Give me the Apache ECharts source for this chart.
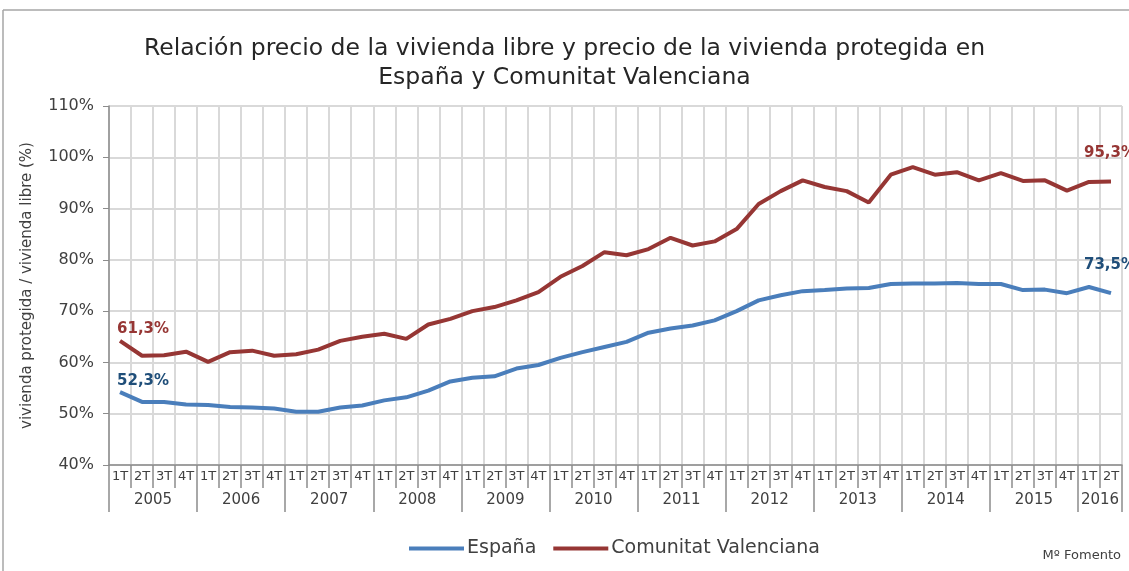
<!DOCTYPE html>
<html>
<head>
<meta charset="utf-8">
<script src="https://cdn.jsdelivr.net/npm/echarts@6/dist/echarts.min.js"></script>
<style>
  html, body { margin: 0; padding: 0; background: #fff; }
  #container { width: 1129px; height: 571px; }
</style>
</head>
<body>
<div id="container"></div>
<script>
// trimestres 2005 1T .. 2016 2T
var years = ['2005','2006','2007','2008','2009','2010','2011','2012','2013','2014','2015','2016']
var quarters = []
var quarterYear = []
for (var y = 0; y < years.length; y++) {
	for (var q = 1; q <= 4; q++) {
		if (years[y] === '2016' && q > 2) break
		quarters.push(q + 'T')
		quarterYear.push(years[y])
	}
}

var espana = [54.2, 52.3, 52.3, 51.8, 51.7, 51.3, 51.2, 51.0, 50.4, 50.4,
	51.2, 51.6, 52.6, 53.2, 54.5, 56.3, 57.0, 57.3, 58.8, 59.5,
	60.9, 62.0, 63.0, 64.0, 65.8, 66.6, 67.2, 68.2, 70.0, 72.1,
	73.1, 73.9, 74.1, 74.4, 74.5, 75.3, 75.4, 75.4, 75.5, 75.3,
	75.3, 74.1, 74.2, 73.5, 74.7, 73.5]
var valenciana = [64.2, 61.3, 61.4, 62.1, 60.1, 62.0, 62.3, 61.3, 61.6, 62.5,
	64.2, 65.0, 65.6, 64.6, 67.4, 68.5, 70.0, 70.8, 72.1, 73.7,
	76.7, 78.8, 81.5, 80.9, 82.1, 84.3, 82.8, 83.6, 86.0, 90.9,
	93.4, 95.5, 94.2, 93.4, 91.2, 96.6, 98.1, 96.6, 97.1, 95.5,
	96.9, 95.4, 95.5, 93.5, 95.2, 95.3]

var startLabels = ['52,3%', '61,3%']
var endLabels = ['73,5%', '95,3%']

// indice donde va la etiqueta del año (desplazada media categoria a la derecha)
var yearLabelIdx = {}
years.forEach(function (yr) {
	var first = quarterYear.indexOf(yr)
	var count = quarterYear.lastIndexOf(yr) - first + 1
	yearLabelIdx[first + count / 2 - 1] = yr
})

var font = 'DejaVu Sans'
var axisGrey = '#8c8c8c'
var gridGrey = '#d9d9d9'

function buildData(values, startText, endText, color) {
	var last = values.length - 1
	return values.map(function (v, i) {
		if (i === 0) {
			return { value: v, label: { show: true, position: 'top', align: 'left', distance: 4, offset: [-3, 0],
				formatter: startText, color: color, fontFamily: font, fontWeight: 'bold', fontSize: 15 } }
		}
		if (i === last) {
			return { value: v, label: { show: true, position: 'top', align: 'left', distance: 5, offset: [-27, -16],
				formatter: endText, color: color, fontFamily: font, fontWeight: 'bold', fontSize: 15 } }
		}
		return v
	})
}

var dom = document.getElementById('container')
var myChart = echarts.init(dom)

var option = {
	animation: false,
	textStyle: { fontFamily: font },
	title: {
		left: 'center',
		top: 29,
		text: 'Relación precio de la vivienda libre y precio de la vivienda protegida en\nEspaña y Comunitat Valenciana',
		textStyle: { fontFamily: font, fontSize: 23.5, fontWeight: 'normal', color: '#262626', lineHeight: 29 }
	},
	legend: {
		left: 404,
		top: 534,
		itemWidth: 55,
		itemHeight: 4,
		itemGap: 17,
		icon: 'rect',
		textStyle: { fontFamily: font, fontSize: 19, color: '#404040', padding: [0, 0, 0, -2] },
		data: ['España', 'Comunitat Valenciana']
	},
	graphic: [
		{ type: 'line', shape: { x1: 3, y1: 10, x2: 1129, y2: 10 }, style: { stroke: '#a6a6a6', lineWidth: 1.5 } },
		{ type: 'line', shape: { x1: 3, y1: 10, x2: 3, y2: 571 }, style: { stroke: '#a6a6a6', lineWidth: 1.5 } },
		{ type: 'text', right: 8, top: 549, style: { text: 'Mº Fomento', font: '13px ' + font, fill: '#404040' } }
	],
	grid: { left: 109, right: 7, top: 106, bottom: 106, outerBoundsMode: 'none', containLabel: false },
	xAxis: [{
		type: 'category',
		data: quarters,
		boundaryGap: true,
		axisLine: { lineStyle: { color: axisGrey, width: 1.5 } },
		axisTick: { show: true, interval: 0, length: 23, lineStyle: { color: axisGrey, width: 1.5 } },
		axisLabel: { interval: 0, margin: 5, fontSize: 13, color: '#404040', fontFamily: font },
		splitLine: { show: true, interval: 0, lineStyle: { color: gridGrey, width: 2 } }
	}, {
		type: 'category',
		data: quarters,
		position: 'bottom',
		boundaryGap: true,
		axisLine: { show: false },
		axisTick: {
			show: true,
			interval: function (i) { return i % 4 === 0 },
			length: 47,
			lineStyle: { color: axisGrey, width: 1.5 }
		},
		axisLabel: {
			interval: function (i) { return yearLabelIdx[i] !== undefined },
			formatter: function (v, i) { return yearLabelIdx[i] },
			padding: [0, 0, 0, 22],
			margin: 28,
			fontSize: 15,
			color: '#404040',
			fontFamily: font
		},
		splitLine: { show: false }
	}],
	yAxis: {
		type: 'value',
		min: 40,
		max: 110,
		interval: 10,
		name: 'vivienda protegida / vivienda libre (%)',
		nameLocation: 'middle',
		nameGap: 74,
		nameTextStyle: { fontFamily: font, fontSize: 15, color: '#404040' },
		axisLine: { show: true, lineStyle: { color: axisGrey, width: 1.5 } },
		axisTick: { show: true, length: 6, lineStyle: { color: axisGrey } },
		axisLabel: { formatter: '{value}%', fontSize: 16, color: '#404040', margin: 15, fontFamily: font },
		splitLine: { lineStyle: { color: gridGrey, width: 2 } }
	},
	series: [{
		name: 'España',
		type: 'line',
		symbol: 'circle',
		symbolSize: 0,
		showSymbol: true,
		color: '#4a7ebb',
		lineStyle: { width: 4, color: '#4a7ebb' },
		data: buildData(espana, startLabels[0], endLabels[0], '#1f4e79')
	}, {
		name: 'Comunitat Valenciana',
		type: 'line',
		symbol: 'circle',
		symbolSize: 0,
		showSymbol: true,
		color: '#963634',
		lineStyle: { width: 4, color: '#963634' },
		data: buildData(valenciana, startLabels[1], endLabels[1], '#963634')
	}]
}

myChart.setOption(option)
</script>
</body>
</html>
